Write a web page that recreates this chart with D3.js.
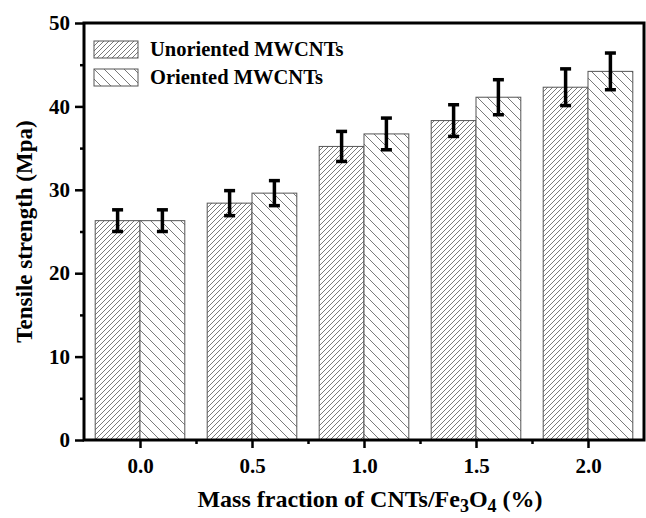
<!DOCTYPE html>
<html lang="en">

<head>
  <meta charset="UTF-8">
  <title>Tensile strength bar chart</title>
  <style>
    body { margin: 0; background: #fff; }
    text { font-family: 'Liberation Serif', 'Times New Roman', serif; font-weight: bold; }
  </style>
</head>

<body>
  <script src="https://d3js.org/d3.v7.min.js"></script>
  <script>
    // data
    const fractions = [0.0, 0.5, 1.0, 1.5, 2.0];
    const unoriented = [26.3, 28.4, 35.2, 38.3, 42.3];
    const unorientedErr = [1.3, 1.5, 1.8, 1.9, 2.2];
    const oriented = [26.3, 29.6, 36.7, 41.1, 44.2];
    const orientedErr = [1.3, 1.5, 1.9, 2.1, 2.2];
    const xTicks = [0.0, 0.5, 1.0, 1.5, 2.0];
    const xMinorTicks = [0.25, 0.75, 1.25, 1.75];
    const yTicks = [0, 10, 20, 30, 40, 50];
    const yMinorTicks = [5, 15, 25, 35, 45];
    const seriesNames = ['Unoriented MWCNTs', 'Oriented MWCNTs'];

    const width = 646, height = 518;
    const margin = { top: 23, right: 2, bottom: 78, left: 84 };
    const barW = 0.2;

    let svg = d3.select('body').append('svg')
      .attr('width', width)
      .attr('height', height);

    // hatch patterns
    let defs = svg.append('defs');
    defs.append('pattern')
      .attr('id', 'hatchU')
      .attr('patternUnits', 'userSpaceOnUse')
      .attr('width', 5).attr('height', 5)
      .call(p => p.append('rect').attr('width', 5).attr('height', 5).attr('fill', '#fff'))
      .call(p => p.append('path')
        .attr('d', 'M-1,1 l2,-2 M0,5 l5,-5 M4,6 l2,-2')
        .attr('stroke', '#7a7a7a').attr('stroke-width', 1));
    defs.append('pattern')
      .attr('id', 'hatchO')
      .attr('patternUnits', 'userSpaceOnUse')
      .attr('width', 10).attr('height', 10)
      .call(p => p.append('rect').attr('width', 10).attr('height', 10).attr('fill', '#fff'))
      .call(p => p.append('path')
        .attr('d', 'M-1,9 l2,2 M0,0 l10,10 M9,-1 l2,2')
        .attr('stroke', '#7a7a7a').attr('stroke-width', 1));

    // scales
    let xScale = d3.scaleLinear().domain([-0.25, 2.25]).range([margin.left, width - margin.right]);
    let yScale = d3.scaleLinear().domain([0, 50]).range([height - margin.bottom, margin.top]);
    const x0 = xScale.range()[0], x1 = xScale.range()[1];
    const y0 = yScale.range()[0], y1 = yScale.range()[1];

    // bars
    const series = [
      { vals: unoriented, err: unorientedErr, fill: 'url(#hatchU)', off: -barW },
      { vals: oriented, err: orientedErr, fill: 'url(#hatchO)', off: 0 }
    ];
    series.forEach(s => {
      svg.append('g').selectAll('rect').data(fractions).join('rect')
        .attr('x', d => xScale(d + s.off))
        .attr('width', xScale(barW) - xScale(0))
        .attr('y', (d, i) => yScale(s.vals[i]))
        .attr('height', (d, i) => yScale(0) - yScale(s.vals[i]))
        .attr('fill', s.fill)
        .attr('stroke', '#555')
        .attr('stroke-width', 1);
    });

    // error bars
    series.forEach(s => {
      let g = svg.append('g').attr('stroke', '#000').attr('stroke-width', 3.5);
      fractions.forEach((f, i) => {
        const cx = xScale(f + s.off + barW / 2);
        const top = yScale(s.vals[i] + s.err[i]), bot = yScale(s.vals[i] - s.err[i]);
        g.append('line').attr('x1', cx).attr('x2', cx).attr('y1', top).attr('y2', bot);
        g.append('line').attr('x1', cx - 5.5).attr('x2', cx + 5.5).attr('y1', top).attr('y2', top);
        g.append('line').attr('x1', cx - 5.5).attr('x2', cx + 5.5).attr('y1', bot).attr('y2', bot);
      });
    });

    // axes
    let xAxis = d3.axisBottom(xScale).tickValues(xTicks).tickFormat(d3.format('.1f'))
      .tickSize(8).tickSizeOuter(0).tickPadding(10);
    let xMinor = d3.axisBottom(xScale).tickValues(xMinorTicks).tickFormat('').tickSize(4).tickSizeOuter(0);
    let yAxis = d3.axisLeft(yScale).tickValues(yTicks).tickSize(9).tickSizeOuter(0).tickPadding(5);
    let yMinor = d3.axisLeft(yScale).tickValues(yMinorTicks).tickFormat('').tickSize(4).tickSizeOuter(0);

    const styleAxis = g => {
      g.select('.domain').remove();
      g.selectAll('line').attr('stroke', '#000').attr('stroke-width', 2.5);
      g.selectAll('text').attr('font-size', 21).attr('fill', '#000');
    };
    svg.append('g').attr('transform', `translate(0,${y0})`).call(xAxis).call(styleAxis);
    svg.append('g').attr('transform', `translate(0,${y0})`).call(xMinor).call(styleAxis);
    svg.append('g').attr('transform', `translate(${x0},0)`).call(yAxis).call(styleAxis);
    svg.append('g').attr('transform', `translate(${x0},0)`).call(yMinor).call(styleAxis);

    // frame
    svg.append('rect')
      .attr('x', x0).attr('y', y1)
      .attr('width', x1 - x0).attr('height', y0 - y1)
      .attr('fill', 'none').attr('stroke', '#000').attr('stroke-width', 3);

    // axis titles
    svg.append('text')
      .attr('transform', `translate(32,${(y0 + y1) / 2}) rotate(-90)`)
      .attr('text-anchor', 'middle')
      .attr('font-size', 23)
      .text('Tensile strength (Mpa)');
    let xt = svg.append('text')
      .attr('x', (x0 + x1) / 2 + 6).attr('y', 507)
      .attr('text-anchor', 'middle')
      .attr('font-size', 24);
    xt.append('tspan').text('Mass fraction of CNTs/Fe');
    xt.append('tspan').attr('font-size', 18).attr('dy', 5).text('3');
    xt.append('tspan').attr('dy', -5).text('O');
    xt.append('tspan').attr('font-size', 18).attr('dy', 5).text('4');
    xt.append('tspan').attr('dy', -5).text(' (%)');

    // legend
    let legend = svg.append('g').attr('transform', 'translate(94,41)');
    seriesNames.forEach((name, i) => {
      let item = legend.append('g').attr('transform', `translate(0,${i * 28})`);
      item.append('rect')
        .attr('width', 44).attr('height', 17)
        .attr('fill', series[i].fill)
        .attr('stroke', '#555').attr('stroke-width', 1);
      item.append('text')
        .attr('x', 56).attr('y', 15)
        .attr('font-size', 20.5)
        .text(name);
    });
  </script>
</body>

</html>
